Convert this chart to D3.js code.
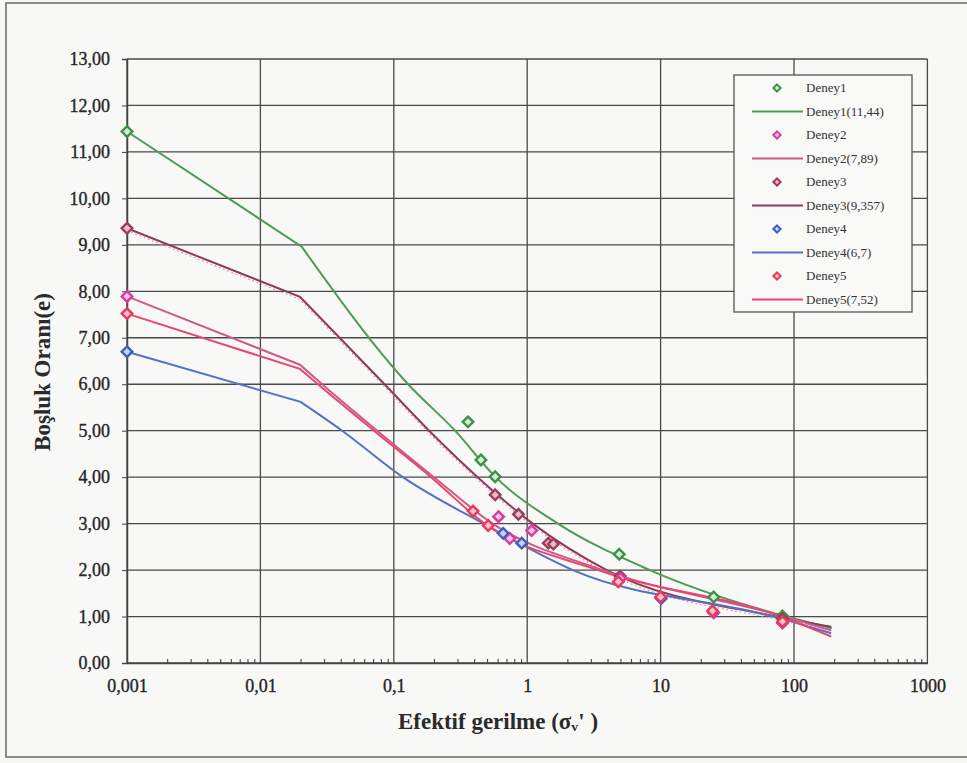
<!DOCTYPE html>
<html>
<head>
<meta charset="utf-8">
<script src="https://cdn.jsdelivr.net/npm/d3@7"></script>
<style>
  body { margin: 0; background: #f7f7f5; }
  svg { display: block; }
  svg text { font-family: "Liberation Serif", "DejaVu Serif", Tinos, serif !important; }
</style>
</head>
<body>
<svg id="chart" width="967" height="763"></svg>
<script>
// ---- axis ticks ----
const xTicks = [0.001, 0.01, 0.1, 1, 10, 100, 1000];
const xTickLabels = ["0,001", "0,01", "0,1", "1", "10", "100", "1000"];
const yTicks = [0, 1, 2, 3, 4, 5, 6, 7, 8, 9, 10, 11, 12, 13];
const yTickLabels = ["0,00", "1,00", "2,00", "3,00", "4,00", "5,00", "6,00",
                     "7,00", "8,00", "9,00", "10,00", "11,00", "12,00", "13,00"];

// ---- measured points (effective stress, void ratio) ----
const seriesNames = ["Deney1", "Deney2", "Deney3", "Deney4", "Deney5"];
const deney1Stress = [0.001, 0.36, 0.45, 0.575, 4.9, 25, 82];
const deney1Void   = [11.44, 5.19, 4.37, 4.01, 2.34, 1.42, 1.01];
const deney2Stress = [0.001, 0.61, 0.74, 1.08, 5.0, 25, 82];
const deney2Void   = [7.89, 3.15, 2.68, 2.85, 1.82, 1.08, 0.86];
const deney3Stress = [0.001, 0.575, 0.86, 1.44, 1.57, 4.97, 82];
const deney3Void   = [9.357, 3.62, 3.20, 2.58, 2.56, 1.87, 0.95];
const deney4Stress = [0.001, 0.66, 0.91, 10.1];
const deney4Void   = [6.7, 2.79, 2.58, 1.39];
const deney5Stress = [0.001, 0.393, 0.51, 4.82, 10, 24.5, 82];
const deney5Void   = [7.52, 3.27, 2.96, 1.75, 1.42, 1.12, 0.89];

// ---- fitted curves ----
const fitNames = ["Deney1(11,44)", "Deney2(7,89)", "Deney3(9,357)", "Deney4(6,7)", "Deney5(7,52)"];
const fit1Stress = [0.001, 0.0204, 0.128, 0.288, 0.58, 1.7, 8.3, 87, 192];
const fit1Void   = [11.44, 8.96, 6.0, 5.0, 4.0, 3.0, 2.0, 1.0, 0.75];
const fit2Stress = [0.001, 0.0198, 0.029, 0.075, 0.2, 0.55, 3.7, 85, 190];
const fit2Void   = [7.89, 6.42, 6.0, 5.0, 4.0, 3.0, 2.0, 1.0, 0.7];
const fit3Stress = [0.001, 0.0198, 0.0885, 0.184, 0.425, 1.1, 3.95, 74, 190];
const fit3Void   = [9.357, 7.88, 5.95, 5.0, 4.0, 3.0, 2.0, 1.0, 0.78];
const fit4Stress = [0.001, 0.02, 0.041, 0.117, 0.47, 2.2, 70, 190];
const fit4Void   = [6.7, 5.62, 5.0, 4.0, 3.0, 2.0, 1.0, 0.64];
const fit5Stress = [0.001, 0.0198, 0.027, 0.071, 0.19, 0.48, 3.4, 80, 190];
const fit5Void   = [7.52, 6.33, 6.0, 5.0, 4.0, 3.0, 2.0, 1.0, 0.57];

// ---- styling per test ----
const markerStroke = ["#3f8f48", "#d63ca0", "#9c3c58", "#3c5cc8", "#e8385c"];
const markerFill   = ["#d6ecd2", "#f6c8e6", "#ebbcc8", "#c8d4f4", "#f8c0cc"];
const lineColor    = ["#4f9a55", "#cc5c86", "#8c3a5c", "#5472c4", "#e8466e"];

const points = [
  [deney1Stress, deney1Void], [deney2Stress, deney2Void], [deney3Stress, deney3Void],
  [deney4Stress, deney4Void], [deney5Stress, deney5Void]
].map(([s, v]) => s.map((d, i) => ({ s: d, e: v[i] })));

const fits = [
  [fit1Stress, fit1Void], [fit2Stress, fit2Void], [fit3Stress, fit3Void],
  [fit4Stress, fit4Void], [fit5Stress, fit5Void]
].map(([s, v]) => s.map((d, i) => ({ s: d, e: v[i] })));

const FONT = "Liberation Serif, DejaVu Serif, serif";
const svg = d3.select("#chart");

// outer frame
svg.append("rect").attr("x", 6).attr("y", 3).attr("width", 980).attr("height", 754)
  .attr("fill", "#f8f8f7").attr("stroke", "#6a6a6a").attr("stroke-width", 1.5);

const x = d3.scaleLog().domain([0.001, 1000]).range([127, 927.4]);
const y = d3.scaleLinear().domain([0, 13]).range([663, 59]);

const grid = svg.append("g");
// horizontal grid
grid.selectAll("line.h").data(yTicks).join("line")
  .attr("x1", x(0.001)).attr("x2", x(1000))
  .attr("y1", d => y(d)).attr("y2", d => y(d))
  .attr("stroke", "#4a4a4a").attr("stroke-width", 1.3);
// vertical grid
grid.selectAll("line.v").data(xTicks).join("line")
  .attr("x1", d => x(d)).attr("x2", d => x(d))
  .attr("y1", y(0)).attr("y2", y(13))
  .attr("stroke", "#4a4a4a").attr("stroke-width", 1.3);

// x axis with minor ticks
const minor = [];
for (let p = -3; p < 3; p++) for (let k = 2; k <= 9; k++) minor.push(k * Math.pow(10, p));
const xAxis = d3.axisBottom(x).tickValues(minor).tickSize(4).tickFormat("");
svg.append("g").attr("transform", `translate(0,${y(0) - 4})`).call(xAxis)
  .call(g => g.select(".domain").remove())
  .call(g => g.selectAll("line").attr("stroke", "#444").attr("stroke-width", 1.1));

svg.append("g").attr("transform", `translate(0,${y(0)})`)
  .call(d3.axisBottom(x).tickValues(xTicks).tickSize(0).tickPadding(16)
        .tickFormat((d, i) => xTickLabels[i]))
  .attr("font-family", FONT)
  .call(g => g.select(".domain").attr("stroke", "#444").attr("stroke-width", 1.5))
  .call(g => g.selectAll("text").attr("font-size", 18).attr("fill", "#262626")
              .attr("stroke", "#262626").attr("stroke-width", 0.35));

// y axis
svg.append("g").attr("transform", `translate(${x(0.001)},0)`)
  .call(d3.axisLeft(y).tickValues(yTicks).tickSize(5).tickPadding(12)
        .tickFormat((d, i) => yTickLabels[i]))
  .attr("font-family", FONT)
  .call(g => g.select(".domain").attr("stroke", "#444").attr("stroke-width", 1.5))
  .call(g => g.selectAll("line").attr("stroke", "#444"))
  .call(g => g.selectAll("text").attr("font-size", 18).attr("fill", "#262626")
              .attr("stroke", "#262626").attr("stroke-width", 0.35));

// fitted curves: straight first segment, smooth afterwards
const lin = d3.line().x(d => x(d.s)).y(d => y(d.e));
const smooth = d3.line().x(d => x(d.s)).y(d => y(d.e)).curve(d3.curveMonotoneX);
function fitPath(pts) {
  return lin(pts.slice(0, 2)) + smooth(pts.slice(1)).replace(/^M/, "L");
}
const fitOrder = [0, 2, 3, 1, 4];
fitOrder.forEach(i => {
  svg.append("path").attr("d", fitPath(fits[i])).attr("fill", "none")
    .attr("stroke", lineColor[i]).attr("stroke-width", 2);
  if (i === 2) {
    svg.append("path").attr("d", fitPath(fits[i])).attr("fill", "none")
      .attr("transform", "translate(0,2.5)")
      .attr("stroke", "#f07aa0").attr("stroke-width", 1.2).attr("stroke-dasharray", "1.5,3");
  }
});

// diamond marker symbol
const diamond = {
  draw(ctx, size) {
    const r = Math.sqrt(size / 2);
    ctx.moveTo(0, -r); ctx.lineTo(r, 0); ctx.lineTo(0, r); ctx.lineTo(-r, 0); ctx.closePath();
  }
};
const sym = d3.symbol().type(diamond).size(56);
[0, 2, 1, 3, 4].forEach(i => {
  svg.append("g").selectAll("path").data(points[i]).join("path")
    .attr("d", sym)
    .attr("transform", d => `translate(${x(d.s)},${y(d.e)})`)
    .attr("fill", markerFill[i]).attr("stroke", markerStroke[i]).attr("stroke-width", 2.4);
});

// legend
const lg = svg.append("g").attr("font-family", FONT);
lg.append("rect").attr("x", 734).attr("y", 75).attr("width", 178).attr("height", 237)
  .attr("fill", "#f9f9f8").attr("stroke", "#555").attr("stroke-width", 1.3);
const legendItems = [];
seriesNames.forEach((n, i) => {
  legendItems.push({ label: n, type: "marker", i });
  legendItems.push({ label: fitNames[i], type: "line", i });
});
const rowY = d3.scalePoint().domain(d3.range(legendItems.length)).range([88, 299.5]);
const row = lg.selectAll("g.row").data(legendItems).join("g")
  .attr("transform", (d, k) => `translate(0,${rowY(k)})`);
row.filter(d => d.type === "marker").append("path")
  .attr("d", d3.symbol().type(diamond).size(26))
  .attr("transform", "translate(777,0)")
  .attr("fill", d => markerFill[d.i]).attr("stroke", d => markerStroke[d.i]).attr("stroke-width", 2);
row.filter(d => d.type === "line").append("line")
  .attr("x1", 752).attr("x2", 803).attr("y1", 0).attr("y2", 0)
  .attr("stroke", d => lineColor[d.i]).attr("stroke-width", 1.8);
row.append("text").attr("x", 806).attr("y", 4).attr("font-size", 13)
  .attr("fill", "#333").text(d => d.label);

// axis titles
svg.append("text").attr("x", 498).attr("y", 729).attr("text-anchor", "middle")
  .attr("font-family", FONT)
  .attr("font-size", 23).attr("font-weight", "bold").attr("fill", "#2a2a2a")
  .text("Efektif gerilme (σ\u1d65' )");
svg.append("text").attr("transform", "translate(50,372) rotate(-90)")
  .attr("font-family", FONT)
  .attr("text-anchor", "middle").attr("font-size", 23).attr("font-weight", "bold")
  .attr("fill", "#2a2a2a").text("Boşluk Oranı(e)");
</script>
</body>
</html>
